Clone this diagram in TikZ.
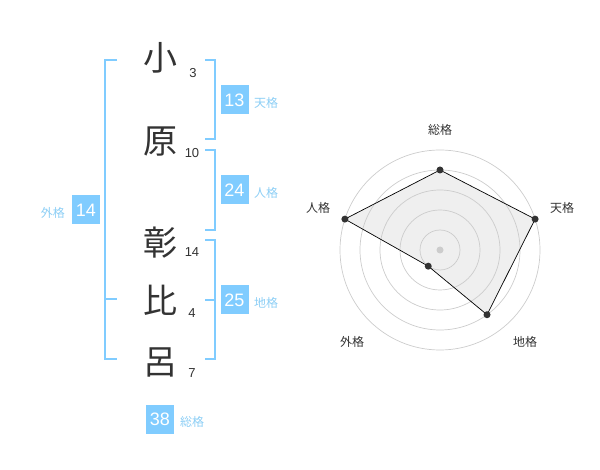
\documentclass[tikz,border=0pt]{standalone}
\usepackage{fontspec}
\setmainfont{Liberation Sans}
\newfontfamily\cjk{Noto Sans CJK JP}
\definecolor{acc}{RGB}{128,204,255}
\definecolor{lbl}{RGB}{140,206,245}
\definecolor{ink}{RGB}{51,51,51}
\definecolor{ring}{RGB}{204,204,204}
\definecolor{poly}{RGB}{239,239,239}
\tikzset{
  kanji/.style={font=\cjk\fontsize{34}{34}\selectfont, text=ink, inner sep=0pt},
  strokes/.style={font=\fontsize{13}{13}\selectfont, text=ink, inner sep=0pt},
  valbox/.style={fill=acc, text=white, minimum width=28pt, minimum height=29pt, inner sep=0pt, font=\fontsize{18}{18}\selectfont},
  kaku/.style={font=\cjk\fontsize{12}{12}\selectfont, text=lbl, inner sep=0pt},
  brk/.style={draw=acc, line width=2pt},
  axislbl/.style={font=\cjk\fontsize{12}{12}\selectfont, text=ink, inner sep=0pt},
  ringline/.style={draw=ring, line width=0.7pt},
  dot/.style={circle, fill=ink, minimum size=7pt, inner sep=0pt},
}
\begin{document}
\begin{tikzpicture}[x=1pt,y=-1pt]
\useasboundingbox (0,0) rectangle (600,470);
% name characters
\node[kanji] (k1) at (160,58) {小};
\node[kanji] (k2) at (160,142) {原};
\node[kanji] (k3) at (160,243) {彰};
\node[kanji] (k4) at (160,300) {比};
\node[kanji] (k5) at (160,362) {呂};
% stroke counts
\node[strokes] (n1) at (193,73) {3};
\node[strokes] (n2) at (192,153) {10};
\node[strokes] (n3) at (192,252) {14};
\node[strokes] (n4) at (192,313) {4};
\node[strokes] (n5) at (192,373) {7};
% brackets
\draw[brk] (205,60) -- (215,60) -- (215,139) -- (205,139);
\draw[brk] (205,150) -- (215,150) -- (215,230) -- (205,230);
\draw[brk] (205,240) -- (215,240) -- (215,359) -- (205,359);
\draw[brk] (205,300) -- (215,300);
\draw[brk] (117,60) -- (105,60) -- (105,359) -- (117,359);
\draw[brk] (105,299) -- (117,299);
% values
\node[valbox] (v1) at (234.5,100) {13};
\node[kaku, anchor=west] (l1) at (254,103) {天格};
\node[valbox] (v2) at (234.5,190) {24};
\node[kaku, anchor=west] (l2) at (254,193) {人格};
\node[valbox] (v3) at (234.5,300) {25};
\node[kaku, anchor=west] (l3) at (254,303) {地格};
\node[valbox] (v4) at (86,210) {14};
\node[kaku, anchor=east] (l4) at (65,213) {外格};
\node[valbox] (v5) at (160,419) {38};
\node[kaku, anchor=west] (l5) at (180,422) {総格};
% radar chart
\begin{scope}[shift={(440,250)}]
  \coordinate (c) at (0,0);
  \coordinate (ps) at (90:80pt);
  \coordinate (pt) at (18:100pt);
  \coordinate (pc) at (-54:80pt);
  \coordinate (pg) at (-126:20pt);
  \coordinate (pj) at (162:100pt);
  \fill[poly] (ps) -- (pt) -- (pc) -- (pg) -- (pj) -- cycle;
  \foreach \r in {20,40,60,80,100} \draw[ringline] (c) circle[radius=\r pt];
  \draw[black, line width=0.7pt] (ps) -- (pt) -- (pc) -- (pg) -- (pj) -- cycle;
  \node[dot] (ds) at (ps) {};
  \node[dot] (dt) at (pt) {};
  \node[dot] (dc) at (pc) {};
  \node[dot] (dg) at (pg) {};
  \node[dot] (dj) at (pj) {};
  \node[circle, fill=ring, minimum size=7pt, inner sep=0pt] (cd) at (c) {};
\end{scope}
\node[axislbl] (as) at (440,130) {総格};
\node[axislbl] (at) at (562,208) {天格};
\node[axislbl] (ac) at (525,342) {地格};
\node[axislbl] (ag) at (352,342) {外格};
\node[axislbl] (aj) at (318,208) {人格};
\end{tikzpicture}
\end{document}
